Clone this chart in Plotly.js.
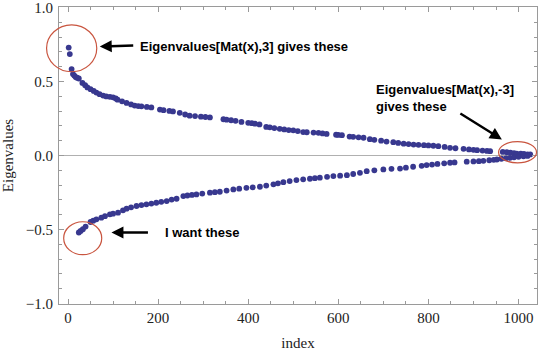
<!DOCTYPE html>
<html>
<head>
<meta charset="utf-8">
<script src="https://cdn.plot.ly/plotly-3.0.1.min.js"></script>
<style>
html,body{margin:0;padding:0;background:#fff;}
#chart{width:540px;height:351px;}
</style>
</head>
<body>
<div id="chart"></div>
<script>
// Upper branch (positive eigenvalues)
var upperIndex = [1.5,4,8,11,14,17,20,24,32,38,43,50,57,63,70,78,85,93,100,106,110,120,130,140,148,156,163,175,185,204,212,225,233,248,260,270,282,295,305,315,345,352,362,372,385,400,408,415,425,440,448,458,470,480,490,500,510,522,530,545,556,565,574,595,600,608,625,633,645,656,670,680,695,707,722,733,745,756,767,778,790,800,811,822,836,848,860,878,890,900,908,920,930,937,965,974,982,990,996,1005,1012,1020,1026];
var upperValue = [0.729,0.685,0.584,0.55,0.54,0.53,0.525,0.52,0.49,0.475,0.46,0.448,0.436,0.425,0.414,0.405,0.399,0.396,0.393,0.385,0.377,0.366,0.355,0.345,0.337,0.334,0.332,0.328,0.325,0.31,0.306,0.301,0.298,0.288,0.277,0.269,0.266,0.262,0.26,0.257,0.245,0.242,0.238,0.234,0.227,0.221,0.218,0.215,0.21,0.193,0.19,0.185,0.18,0.176,0.172,0.17,0.165,0.158,0.157,0.155,0.153,0.149,0.146,0.14,0.139,0.137,0.128,0.126,0.123,0.12,0.11,0.106,0.1,0.094,0.09,0.085,0.08,0.077,0.074,0.072,0.07,0.068,0.066,0.063,0.058,0.052,0.049,0.045,0.041,0.038,0.036,0.033,0.031,0.029,0.024,0.022,0.02,0.016,0.013,0.012,0.01,0.008,0.007];

// Lower branch (negative eigenvalues)
var lowerIndex = [24,28,33,39,50,56,63,74,82,93,100,111,122,130,140,152,163,174,185,196,207,219,230,241,256,265,275,285,298,315,326,337,352,367,380,396,410,426,440,456,466,478,492,507,522,537,548,559,575,589,604,619,633,648,663,680,700,718,737,750,766,785,796,808,820,835,848,858,885,900,912,922,935,945,952,962,972,981,990,1000,1011,1020];
var lowerValue = [-0.52,-0.51,-0.498,-0.48,-0.449,-0.44,-0.431,-0.42,-0.41,-0.397,-0.393,-0.386,-0.37,-0.359,-0.35,-0.341,-0.335,-0.33,-0.325,-0.319,-0.313,-0.308,-0.298,-0.292,-0.274,-0.27,-0.266,-0.263,-0.257,-0.251,-0.248,-0.245,-0.237,-0.229,-0.224,-0.218,-0.215,-0.211,-0.203,-0.195,-0.188,-0.18,-0.173,-0.166,-0.161,-0.157,-0.153,-0.15,-0.144,-0.139,-0.136,-0.133,-0.125,-0.117,-0.106,-0.1,-0.094,-0.09,-0.088,-0.082,-0.076,-0.07,-0.065,-0.061,-0.057,-0.053,-0.049,-0.047,-0.042,-0.04,-0.038,-0.036,-0.032,-0.029,-0.027,-0.022,-0.019,-0.016,-0.012,-0.009,-0.005,-0.003];

// Axis tick values and labels
var xTickVals = [0, 200, 400, 600, 800, 1000];
var yTickVals = [-1, -0.5, 0, 0.5, 1];
var yTickText = ['\u22121.0', '\u22120.5', '0.0', '0.5', '1.0'];

var dotColor = '#38388f';
var circleColor = '#c9553f';
var serif = 'Liberation Serif, Times New Roman, serif';
var sans = 'Liberation Sans, Arial, sans-serif';

var traces = [
  {x: upperIndex, y: upperValue, type: 'scatter', mode: 'markers',
   marker: {color: dotColor, size: 5.8}, hoverinfo: 'x+y', showlegend: false, cliponaxis: false},
  {x: lowerIndex, y: lowerValue, type: 'scatter', mode: 'markers',
   marker: {color: dotColor, size: 5.8}, hoverinfo: 'x+y', showlegend: false, cliponaxis: false}
];

var axisCommon = {
  showgrid: false,
  showline: true, linecolor: '#9a9a9a', linewidth: 1,
  mirror: 'allticks',
  ticks: 'inside', ticklen: 5, tickwidth: 1, tickcolor: '#9a9a9a',
  ticklabeloverflow: 'allow',
  tickfont: {family: serif, size: 15, color: '#222'},
  minor: {ticks: 'inside', ticklen: 3, tickwidth: 1, tickcolor: '#9a9a9a'}
};

var layout = {
  width: 540, height: 351,
  margin: {l: 59, r: 3, t: 7, b: 47},
  paper_bgcolor: '#fff', plot_bgcolor: '#fff',
  xaxis: Object.assign({}, axisCommon, {
    range: [-20, 1041], tickmode: 'array', tickvals: xTickVals,
    minor: Object.assign({}, axisCommon.minor, {tick0: 0, dtick: 50}),
    zeroline: false,
    title: {text: 'index', font: {family: serif, size: 15, color: '#222'}, standoff: 12}
  }),
  yaxis: Object.assign({}, axisCommon, {
    range: [-1.003, 1.003], tickmode: 'array', tickvals: yTickVals, ticktext: yTickText,
    minor: Object.assign({}, axisCommon.minor, {tick0: 0, dtick: 0.1}),
    zeroline: true, zerolinecolor: '#b0b0b0', zerolinewidth: 1,
    ticklabelstandoff: 2,
    title: {text: 'Eigenvalues', font: {family: serif, size: 15, color: '#222'}, standoff: 10}
  }),
  shapes: [
    {type: 'circle', xref: 'paper', yref: 'paper', x0: -0.026, x1: 0.079, y0: 0.782, y1: 0.940,
     line: {color: circleColor, width: 1.2}},
    {type: 'circle', xref: 'paper', yref: 'paper', x0: 0.0098, x1: 0.0894, y0: 0.166, y1: 0.277,
     line: {color: circleColor, width: 1.2}},
    {type: 'circle', xref: 'paper', yref: 'paper', x0: 0.9196, x1: 0.999, y0: 0.475, y1: 0.547,
     line: {color: circleColor, width: 1.2}}
  ],
  annotations: [
    {xref: 'x', yref: 'y', x: 155, y: 0.736, xanchor: 'left', yanchor: 'middle', showarrow: false,
     text: 'Eigenvalues[Mat(x),3] gives these', font: {family: sans, size: 13, color: '#000', weight: 'bold'}},
    {xref: 'x', yref: 'y', x: 70.4, y: 0.736, ax: 35, ay: -1, text: '', showarrow: true,
     arrowhead: 2, arrowsize: 1, arrowwidth: 2.4, arrowcolor: '#000', standoff: 0, startstandoff: 0},
    {xref: 'x', yref: 'y', x: 679, y: 0.386, xanchor: 'left', yanchor: 'middle', align: 'left', showarrow: false,
     text: 'Eigenvalues[Mat(x),-3]<br>gives these', font: {family: sans, size: 13, color: '#000', weight: 'bold'}},
    {xref: 'x', yref: 'y', x: 963, y: 0.108, ax: -43, ay: -27, text: '', showarrow: true,
     arrowhead: 2, arrowsize: 1, arrowwidth: 2.4, arrowcolor: '#000', standoff: 0, startstandoff: 0},
    {xref: 'x', yref: 'y', x: 211, y: -0.52, xanchor: 'left', yanchor: 'middle', showarrow: false,
     text: 'I want these', font: {family: sans, size: 13, color: '#000', weight: 'bold'}},
    {xref: 'x', yref: 'y', x: 96.4, y: -0.52, ax: 38, ay: 0, text: '', showarrow: true,
     arrowhead: 2, arrowsize: 1, arrowwidth: 2.4, arrowcolor: '#000', standoff: 0, startstandoff: 0}
  ]
};

Plotly.newPlot('chart', traces, layout, {displayModeBar: false, staticPlot: true});
</script>
</body>
</html>
